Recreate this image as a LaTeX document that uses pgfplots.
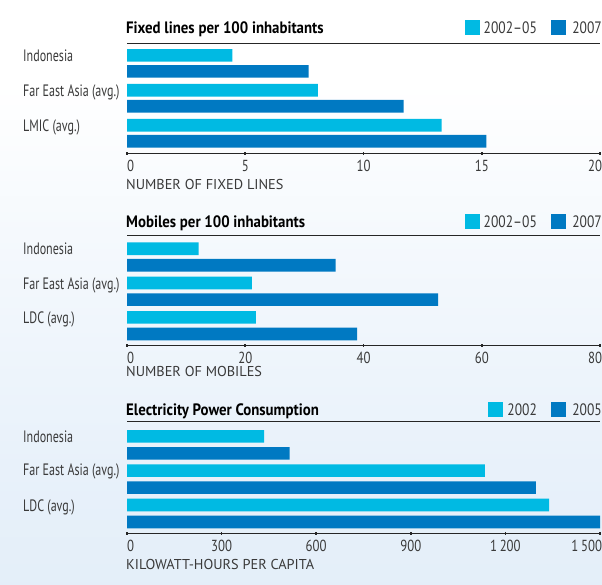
\documentclass[border=0pt]{standalone}
\usepackage{fontspec}
\setmainfont{PT Sans}[FakeStretch=0.73]
\newfontfamily\titlefont{PT Sans}[FakeStretch=0.9]
\newfontfamily\labfont{PT Sans}
\newfontfamily\tickfont{PT Sans}[FakeStretch=0.8]
\newfontfamily\legfont{PT Sans}[FakeStretch=0.82]
\usepackage{pgfplots}
\pgfplotsset{compat=1.18}
\definecolor{clight}{HTML}{00BAE3}
\definecolor{cdark}{HTML}{0079C2}
\definecolor{bgA}{HTML}{D9E8F6}
\definecolor{bgB}{HTML}{E8F1FA}
\definecolor{bgC}{HTML}{F5F9FD}
\definecolor{txt}{HTML}{3A3A3A}
\pgfdeclareverticalshading{bgshade}{100bp}{color(0bp)=(bgA); color(35bp)=(bgB); color(55bp)=(bgC); color(68bp)=(white); color(100bp)=(white)}
\pgfplotsset{
  panel/.style={
    anchor=south west, width=473pt, scale only axis,
    xbar, bar width=12.7pt,
    separate axis lines,
    x axis line style={draw=black!85, line width=0.9pt},
    y axis line style={draw=none},
    ytick=\empty,
    xtick pos=bottom,
    major tick length=3pt, tick align=center,
    xtick style={line width=1.6pt, draw=black!85},
    /pgf/number format/assume math mode=true,
    xticklabel style={font=\tickfont\fontsize{16}{16}\selectfont, text=txt, anchor=north, inner sep=0pt, yshift=-5pt},
    clip=false,
  },
  lightbar/.style={fill=clight, draw=none},
  darkbar/.style={fill=cdark, draw=none},
}
\newcommand\first[1]{\makebox[0pt][l]{#1}}
\newcommand\last[1]{\makebox[4pt][r]{#1}}
\newcommand\legendpair[3]{%
  \node[anchor=base east, inner sep=0pt, font=\legfont\fontsize{16.5}{16.5}\selectfont, text=txt] (t2) at (602pt,#1) {#3};
  \fill[cdark] ([xshift=-6pt,yshift=-1.7pt]t2.base west) rectangle ++(-15pt,14.5pt);
  \node[anchor=base east, inner sep=0pt, font=\legfont\fontsize{16.5}{16.5}\selectfont, text=txt] (t1) at ([xshift=-35pt]t2.base west) {#2};
  \fill[clight] ([xshift=-4pt,yshift=-1.7pt]t1.base west) rectangle ++(-15pt,14.5pt);
}
\newcommand\cat[2]{\node[anchor=base west, inner sep=0pt, font=\fontsize{16.5}{16.5}\selectfont, text=txt] at (23pt,#1) {#2};}
\newcommand\ptitle[2]{\node[anchor=base west, inner sep=0pt, font=\titlefont\bfseries\fontsize{16.5}{16.5}\selectfont] at (126pt,#1) {#2};}
\newcommand\xlab[2]{\node[anchor=base west, inner sep=0pt, font=\labfont\fontsize{14.3}{14.3}\selectfont, text=txt] at (126pt,#1) {#2};}
\begin{document}
\begin{tikzpicture}
\shade[shading=bgshade, use as bounding box] (0pt,0pt) rectangle (602pt,-585pt);

% Panel 1
\begin{axis}[panel, at={(127pt,-153.3pt)}, height=110pt,
  xmin=0, xmax=20, ymin=-0.572, ymax=2.575, xtick={0,5,10,15,20},
  xticklabels={\first{0},5,10,15,\last{20}}]
\addplot[lightbar, bar shift=8pt] coordinates {(4.46,2) (8.07,1) (13.3,0)};
\addplot[darkbar, bar shift=-8pt] coordinates {(7.68,2) (11.7,1) (15.2,0)};
\end{axis}
\ptitle{-33.3pt}{Fixed lines per 100 inhabitants}
\legendpair{-33.3pt}{2002–05}{2007}
\cat{-61.7pt}{Indonesia}
\cat{-96.7pt}{Far East Asia (avg.)}
\cat{-131.7pt}{LMIC (avg.)}
\xlab{-189.3pt}{NUMBER OF FIXED LINES}

% Panel 2
\begin{axis}[panel, at={(127pt,-345pt)}, height=110pt,
  xmin=0, xmax=80, ymin=-0.562, ymax=2.640, xtick={0,20,40,60,80},
  xticklabels={\first{0},20,40,60,\last{80}}]
\addplot[lightbar, bar shift=8.3pt] coordinates {(12.1,2) (21.1,1) (21.8,0)};
\addplot[darkbar, bar shift=-8.3pt] coordinates {(35.3,2) (52.6,1) (38.9,0)};
\end{axis}
\ptitle{-227.3pt}{Mobiles per 100 inhabitants}
\legendpair{-227.3pt}{2002–05}{2007}
\cat{-254.5pt}{Indonesia}
\cat{-289.5pt}{Far East Asia (avg.)}
\cat{-323.3pt}{LDC (avg.)}
\xlab{-376.7pt}{NUMBER OF MOBILES}

% Panel 3
\begin{axis}[panel, at={(127pt,-533.3pt)}, height=111.6pt,
  xmin=0, xmax=1500, ymin=-0.581, ymax=2.677, xtick={0,300,600,900,1200,1500},
  xticklabels={\first{0},300,600,900,1\,200,\last{1\,500}}]
\addplot[lightbar, bar shift=8.5pt] coordinates {(435,2) (1135,1) (1339,0)};
\addplot[darkbar, bar shift=-8.5pt] coordinates {(516,2) (1297,1) (1500,0)};
\end{axis}
\ptitle{-415pt}{Electricity Power Consumption}
\legendpair{-415pt}{2002}{2005}
\cat{-442.5pt}{Indonesia}
\cat{-475.7pt}{Far East Asia (avg.)}
\cat{-511.7pt}{LDC (avg.)}
\xlab{-569pt}{KILOWATT-HOURS PER CAPITA}
\end{tikzpicture}
\end{document}
